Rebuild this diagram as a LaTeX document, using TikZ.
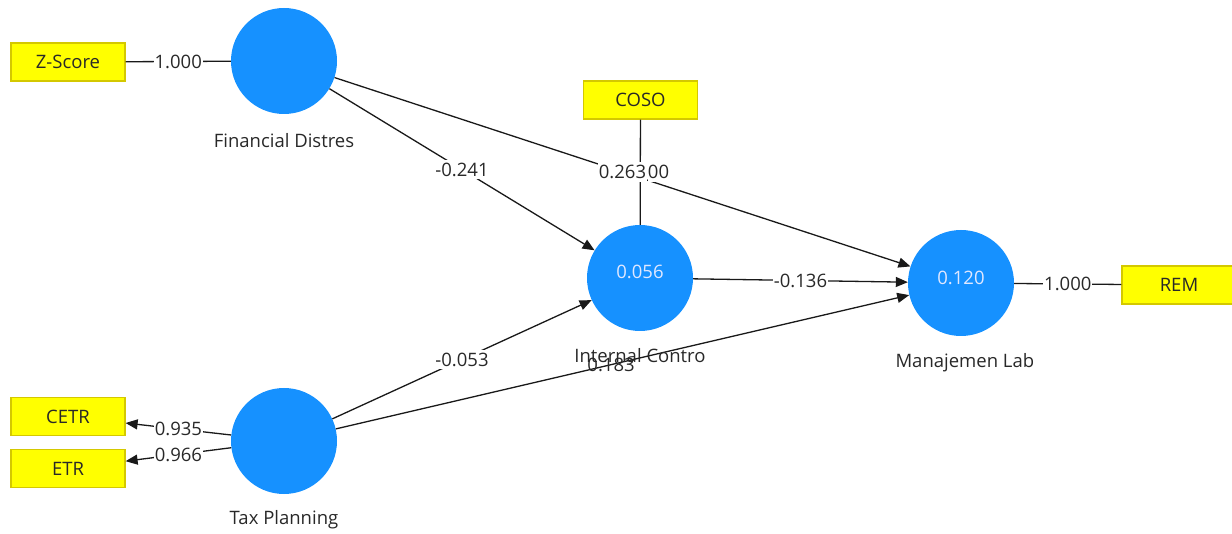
\documentclass[tikz,border=0pt]{standalone}
\usepackage{fontspec}
\setmainfont{Open Sans}
\usetikzlibrary{arrows.meta}
\definecolor{lvblue}{RGB}{22,145,255}
\definecolor{ybox}{RGB}{255,255,0}
\definecolor{yborder}{RGB}{212,200,0}
\definecolor{ink}{RGB}{40,40,40}
\definecolor{valtext}{RGB}{225,232,255}
\begin{document}
\begin{tikzpicture}[x=1pt,y=-1pt,
  lv/.style={circle,fill=lvblue,minimum size=106pt,inner sep=0pt},
  val/.style={text=valtext,font=\fontsize{18.5}{22}\selectfont},
  mv/.style={rectangle,fill=ybox,draw=yborder,line width=1.2pt,minimum width=114pt,minimum height=38pt,inner sep=0pt,font=\fontsize{18.5}{22}\selectfont,text=ink},
  conn/.style={line width=1.3pt,draw=black!90},
  arw/.style={conn,-{Triangle[length=12pt,width=10pt]}},
  coef/.style={fill=white,inner xsep=1pt,inner ysep=3pt,font=\fontsize{18.5}{22}\selectfont,text=ink},
  lbl/.style={font=\fontsize{18.5}{22}\selectfont,text=ink}]
\useasboundingbox (0,0) rectangle (1232,534);
% latent variables
\node[lv] (fd) at (284,61) {};
\node[lv] (ic) at (640,278) {};
\node[lv] (ml) at (961,283) {};
\node[lv] (tp) at (284,441) {};
% indicators
\node[mv] (zs) at (68,62) {Z-Score};
\node[mv] (coso) at (640.5,100) {COSO};
\node[mv] (rem) at (1179,285) {REM};
\node[mv] (cetr) at (68,416.5) {CETR};
\node[mv] (etr) at (68,468.5) {ETR};
% connectors
\draw[conn] (zs) -- node[coef] {1.000} (fd);
\draw[conn] (coso) -- (ic);
\draw[arw] (fd) -- node[coef] {-0.241} (ic);
\draw[arw] (fd) -- node[coef] (l263) {0.263} (ml);
\node[coef,anchor=west,inner xsep=0pt] (l300) at (l263.east) {00};
\draw[arw] (ic) -- node[coef] {-0.136} (ml);
\draw[arw] (tp) -- node[coef] {-0.053} (ic);
\draw[arw] (tp) -- node[coef,fill=none,pos=0.48] {0.183} (ml);
\draw[conn] (ml) -- node[coef] {1.000} (rem);
\draw[arw] (tp) -- node[coef] {0.935} (cetr);
\draw[arw] (tp) -- node[coef] {0.966} (etr);
% values
\node[val] (icv) at (640,272) {0.056};
\node[val] (mlv) at (961,278) {0.120};
% names
\node[lbl] (fdl) at (284,141) {Financial Distres};
\node[lbl] (icl) at (640,356) {Internal Contro};
\begin{scope}
\clip (880,340) rectangle (1032,390);
\node[lbl,anchor=west] (mll) at (892,363) {Manajemen Laba};
\end{scope}
\node[lbl] (tpl) at (284,520) {Tax Planning};
\end{tikzpicture}
\end{document}
